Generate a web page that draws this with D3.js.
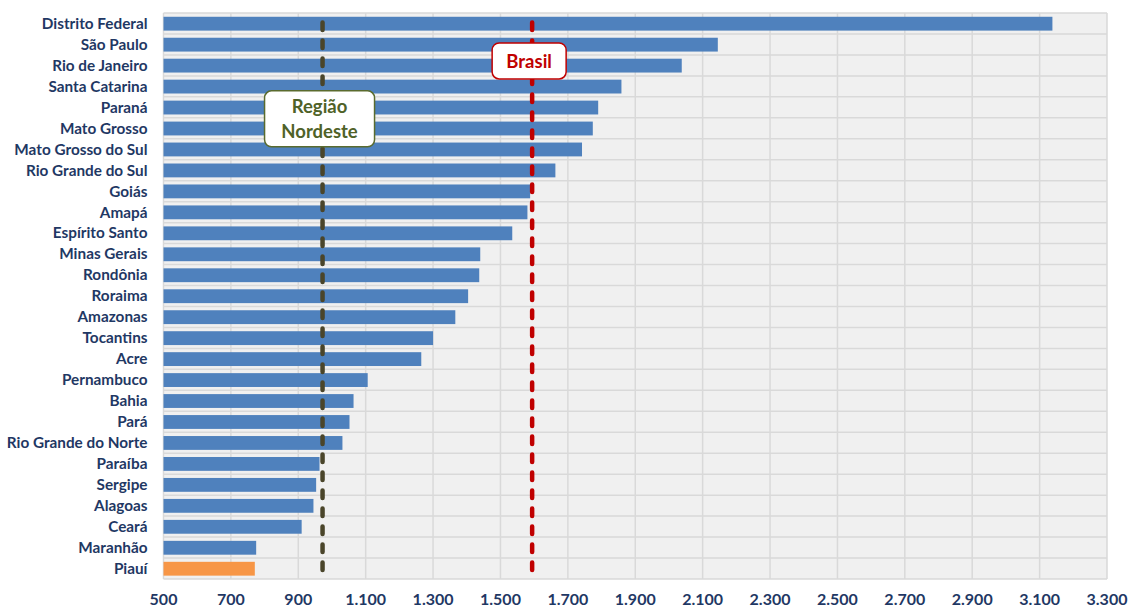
<!DOCTYPE html>
<html>
<head>
<meta charset="utf-8">
<script src="https://cdn.jsdelivr.net/npm/d3@7"></script>
<style>
body { margin: 0; background: #fff; }
text { font-family: Lato, "Open Sans", sans-serif; font-weight: bold; }
</style>
</head>
<body>
<script>
const states = ["Distrito Federal", "São Paulo", "Rio de Janeiro", "Santa Catarina", "Paraná",
    "Mato Grosso", "Mato Grosso do Sul", "Rio Grande do Sul", "Goiás", "Amapá", "Espírito Santo",
    "Minas Gerais", "Rondônia", "Roraima", "Amazonas", "Tocantins", "Acre", "Pernambuco", "Bahia",
    "Pará", "Rio Grande do Norte", "Paraíba", "Sergipe", "Alagoas", "Ceará", "Maranhão", "Piauí"];
const values = [3138, 2145, 2038, 1859, 1790, 1774, 1742, 1663, 1588, 1580, 1535, 1440, 1437,
    1404, 1366, 1300, 1265, 1106, 1064, 1052, 1031, 963, 953, 945, 910, 775, 771];
const highlight = "Piauí";
const refLines = [
    { name: "Região Nordeste", lines: ["Região", "Nordeste"], value: 972 },
    { name: "Brasil", lines: ["Brasil"], value: 1594 }
];
const xTicks = [500, 700, 900, 1100, 1300, 1500, 1700, 1900, 2100, 2300, 2500, 2700, 2900, 3100, 3300];

const width = 1128,
    height = 610,
    margin = { top: 13, right: 21, bottom: 31, left: 163.5 },
    locale = d3.formatLocale({ decimal: ",", thousands: ".", grouping: [3], currency: ["R$", ""] }),
    format = locale.format(",d");

const data = states.map((s, i) => ({ state: s, value: values[i] }));

const svg = d3.select("body").append("svg")
    .attr("width", width)
    .attr("height", height);

const x = d3.scaleLinear()
    .domain([500, 3300])
    .range([margin.left, width - margin.right]);

const y = d3.scaleBand()
    .domain(states)
    .range([margin.top, height - margin.bottom])
    .padding(0);

const step = y.step();

// plot background
svg.append("rect")
    .attr("x", x(500)).attr("y", margin.top)
    .attr("width", x(3300) - x(500)).attr("height", height - margin.bottom - margin.top)
    .attr("fill", "#f0f0f0");

// vertical gridlines
svg.append("g").selectAll("line")
    .data(xTicks)
    .join("line")
    .attr("x1", d => x(d)).attr("x2", d => x(d))
    .attr("y1", margin.top).attr("y2", height - margin.bottom)
    .attr("stroke", "#d9d9d9").attr("stroke-width", 1.5);

// horizontal gridlines at band boundaries
svg.append("g").selectAll("line")
    .data(states.concat([null]))
    .join("line")
    .attr("x1", x(500)).attr("x2", x(3300))
    .attr("y1", d => d === null ? height - margin.bottom : y(d))
    .attr("y2", d => d === null ? height - margin.bottom : y(d))
    .attr("stroke", "#d9d9d9").attr("stroke-width", 1.5);

// bars
svg.append("g").selectAll("rect")
    .data(data)
    .join("rect")
    .attr("x", x(500))
    .attr("y", d => y(d.state) + step * 0.18)
    .attr("width", d => x(d.value) - x(500))
    .attr("height", step * 0.66)
    .attr("fill", d => d.state === highlight ? "#f79646" : "#4f81bd");

// category labels
svg.append("g").selectAll("text")
    .data(states)
    .join("text")
    .attr("x", margin.left - 16)
    .attr("y", d => y(d) + step / 2)
    .attr("dy", "0.35em")
    .attr("text-anchor", "end")
    .attr("font-size", 15.3)
    .attr("fill", "#1f3864")
    .text(d => d);

// x axis labels
svg.append("g").selectAll("text")
    .data(xTicks)
    .join("text")
    .attr("x", d => x(d))
    .attr("y", 605)
    .attr("text-anchor", "middle")
    .attr("font-size", 16)
    .attr("fill", "#1f3864")
    .text(d => format(d));

// reference lines
const lineColors = { "Região Nordeste": "#4a452a", "Brasil": "#c00000" };
const y1 = y(states[0]) + step * 0.45,
    y2 = y(states[states.length - 1]) + step * 0.85;

svg.append("g").selectAll("line")
    .data(refLines)
    .join("line")
    .attr("x1", d => x(d.value)).attr("x2", d => x(d.value))
    .attr("y1", y1).attr("y2", y2)
    .attr("stroke", d => lineColors[d.name])
    .attr("stroke-width", 4.5)
    .attr("stroke-linecap", "round")
    .attr("stroke-dasharray", "7.5,10.5");

// annotation boxes
const boxes = [
    { name: "Região Nordeste", row: "Mato Grosso", off: 1, w: 110, h: 56, border: "#5a6b2e", text: "#4f6228" },
    { name: "Brasil", row: "Rio de Janeiro", off: 6, w: 74, h: 36, border: "#c00000", text: "#c00000" }
];

boxes.forEach(b => {
    const ref = refLines.find(r => r.name === b.name);
    const cx = x(ref.value) - 3;
    const cy = y(b.row) + b.off;
    const g = svg.append("g");
    g.append("rect")
        .attr("x", cx - b.w / 2).attr("y", cy - b.h / 2)
        .attr("width", b.w).attr("height", b.h)
        .attr("rx", 7)
        .attr("fill", "#fff")
        .attr("stroke", b.border)
        .attr("stroke-width", 1.5);
    g.selectAll("text")
        .data(ref.lines)
        .join("text")
        .attr("x", cx)
        .attr("y", (d, i) => cy + (i - (ref.lines.length - 1) / 2) * 25)
        .attr("dy", "0.36em")
        .attr("text-anchor", "middle")
        .attr("font-size", 18.5)
        .attr("fill", b.text)
        .text(d => d);
});
</script>
</body>
</html>
